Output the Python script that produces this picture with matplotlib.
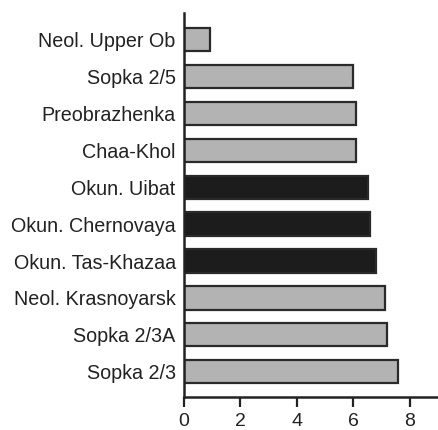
import matplotlib
matplotlib.use("Agg")
import matplotlib.pyplot as plt

sites = ["Neol. Upper Ob", "Sopka 2/5", "Preobrazhenka", "Chaa-Khol", "Okun. Uibat",
         "Okun. Chernovaya", "Okun. Tas-Khazaa", "Neol. Krasnoyarsk", "Sopka 2/3A", "Sopka 2/3"]
values = [0.94, 6.0, 6.08, 6.11, 6.53, 6.58, 6.82, 7.14, 7.21, 7.6]
groups = ["neol", "neol", "neol", "neol", "okun", "okun", "okun", "neol", "neol", "neol"]
xticks = [0, 2, 4, 6, 8]

colors = {"neol": "#b3b3b3", "okun": "#1c1c1c"}

plt.rcParams['font.family'] = ['Liberation Sans', 'DejaVu Sans']
fig = plt.figure(figsize=(4.38, 4.30), dpi=100)
ax = fig.add_axes([0.42, 0.077, 0.58, 0.893])

pos = list(range(len(sites)))
ax.barh(pos, values, height=0.63, color=[colors[g] for g in groups],
        edgecolor="#2a2a2a", linewidth=1.6)
ax.set_ylim(len(sites) - 1 + 0.68, -0.72)
ax.set_xlim(0, 9.0)
ax.set_yticks(pos)
ax.set_yticklabels(sites, fontsize=14.2, color="#222222")
ax.set_xticks(xticks)
ax.set_xticklabels([str(t) for t in xticks], fontsize=14, color="#222222")
for s in ["top", "right"]:
    ax.spines[s].set_visible(False)
for s in ["left", "bottom"]:
    ax.spines[s].set_linewidth(1.8)
    ax.spines[s].set_color("#222222")
ax.tick_params(axis="x", length=7.5, width=1.6, direction="out", pad=4, colors="#222222")
ax.tick_params(axis="y", length=0, pad=6)
fig.savefig("out.png", dpi=100)
